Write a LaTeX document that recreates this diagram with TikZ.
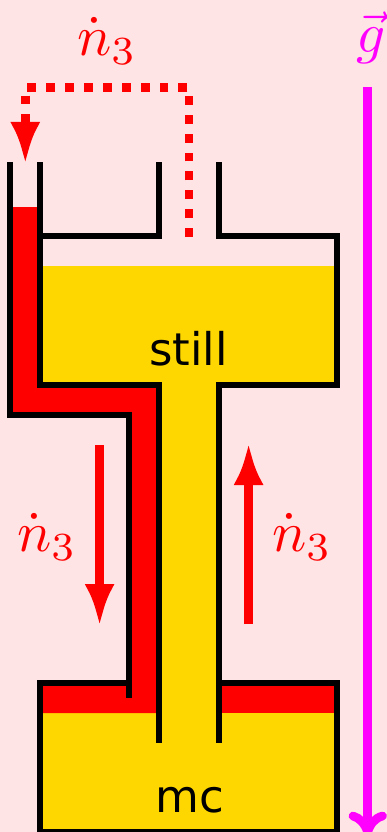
\documentclass[tikz,border=0pt]{standalone}
\usepackage{fontspec}
\setmainfont{DejaVu Sans}
\usetikzlibrary{arrows.meta}
\definecolor{bgpink}{HTML}{FEE4E4}
\definecolor{helium}{HTML}{FFD700}
\definecolor{magenta}{HTML}{FF00FF}
\tikzset{
  wall/.style={draw=black,line width=6.2pt,miter limit=10,line cap=butt},
  flow/.style={draw=red,line width=8.7pt,-{Latex[length=42pt,width=30pt]}},
  flowdash/.style={draw=red,line width=8.9pt,dash pattern=on 8.9pt off 10pt,-{Latex[length=42pt,width=30pt]}},
  gravity/.style={draw=magenta,line width=8.7pt},
  ratelabel/.style={text=red,inner sep=0pt},
  vessel/.style={font=\fontsize{45}{50}\selectfont,inner sep=0pt,anchor=base},
}
\begin{document}
\begin{tikzpicture}[x=1pt,y=-1pt]
\useasboundingbox (0,0) rectangle (387,832);
\fill[bgpink] (0,0) rectangle (387,832);
% liquids
\fill[helium] (40,266) rectangle (337,385);
\fill[helium] (159,385) rectangle (219,683);
\fill[helium] (40,713) rectangle (337,832);
\fill[helium] (159,683) rectangle (219,713);
\fill[red] (10,207) -- (40,207) -- (40,385) -- (159,385) -- (159,713) -- (40,713) -- (40,683) -- (129,683) -- (129,415) -- (10,415) -- cycle;
\fill[red] (219,683) rectangle (337,713);
% walls
\draw[wall] (10,162) -- (10,415) -- (129,415) -- (129,698);
\draw[wall] (40,162) -- (40,385) -- (159,385) -- (159,743);
\draw[wall] (40,236) -- (159,236) -- (159,162);
\draw[wall] (219,162) -- (219,236) -- (337,236) -- (337,385) -- (219,385) -- (219,743);
\draw[wall] (129,683) -- (40,683) -- (40,832) -- (337,832) -- (337,683) -- (219,683);
% coordinates of the flows
\coordinate (dashstart) at (189,237);
\coordinate (dashc1) at (189,87.5);
\coordinate (dashc2) at (25.3,87.5);
\coordinate (dashend) at (25.3,164);
\coordinate (downstart) at (99.6,445);
\coordinate (downend) at (99.6,626);
\coordinate (upstart) at (248.6,624);
\coordinate (upend) at (248.6,443);
\coordinate (gtop) at (367.7,87.5);
\coordinate (gtip) at (367.7,832);
\draw[flowdash] (dashstart) -- (dashc1) -- (dashc2) -- (dashend);
\draw[flow] (downstart) -- (downend);
\draw[flow] (upstart) -- (upend);
\draw[gravity] (gtop) -- (gtip);
\draw[gravity,line cap=round] (353,816) .. controls (360,818) and (365,824) .. (gtip) .. controls (370,824) and (375,818) .. (382.5,816);
% labels
\node[ratelabel] (ntop) at (107,41) {\scalebox{5.7}{$\dot n_3$}};
\node[ratelabel] (nleft) at (47,537) {\scalebox{5.7}{$\dot n_3$}};
\node[ratelabel] (nright) at (302,537) {\scalebox{5.7}{$\dot n_3$}};
\node[text=magenta,inner sep=0pt] (g) at (371,38) {\scalebox{5.7}{$\vec g$}};
\node[vessel] (still) at (188.5,365) {still};
\node[vessel] (mc) at (190,812) {mc};
\end{tikzpicture}
\end{document}
